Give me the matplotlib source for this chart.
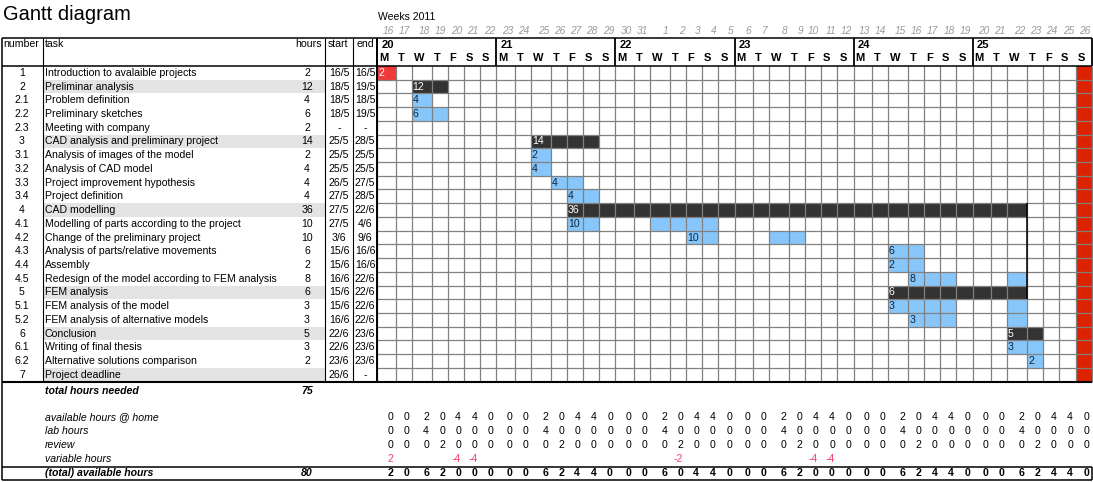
import matplotlib.pyplot as plt
from matplotlib.patches import Rectangle

plt.rcParams['font.family'] = ['Liberation Sans', 'DejaVu Sans']

# task table
numbers = ["1", "2", "2.1", "2.2", "2.3", "3", "3.1", "3.2", "3.3", "3.4",
           "4", "4.1", "4.2", "4.3", "4.4", "4.5", "5", "5.1", "5.2",
           "6", "6.1", "6.2", "7"]
tasks = ["Introduction to avalaible projects", "Preliminar analysis",
         "Problem definition", "Preliminary sketches", "Meeting with company",
         "CAD analysis and preliminary project", "Analysis of images of the model",
         "Analysis of CAD model", "Project improvement hypothesis",
         "Project definition", "CAD modelling",
         "Modelling of parts according to the project",
         "Change of the preliminary project",
         "Analysis of parts/relative movements", "Assembly",
         "Redesign of the model according to FEM analysis", "FEM analysis",
         "FEM analysis of the model", "FEM analysis of alternative models",
         "Conclusion", "Writing of final thesis",
         "Alternative solutions comparison", "Project deadline"]
hours = ["2", "12", "4", "6", "2", "14", "2", "4", "4", "4", "36", "10", "10",
         "6", "2", "8", "6", "3", "3", "5", "3", "2", ""]
starts = ["16/5", "18/5", "18/5", "18/5", "-", "25/5", "25/5", "25/5", "26/5",
          "27/5", "27/5", "27/5", "3/6", "15/6", "15/6", "16/6", "15/6", "15/6",
          "16/6", "22/6", "22/6", "23/6", "26/6"]
ends = ["16/5", "19/5", "18/5", "19/5", "-", "28/5", "25/5", "25/5", "27/5",
        "28/5", "22/6", "4/6", "9/6", "16/6", "16/6", "22/6", "22/6", "22/6",
        "22/6", "23/6", "23/6", "23/6", "-"]
main_rows = ["2", "3", "4", "5", "6", "7"]

# calendar
weeks = ["20", "21", "22", "23", "24", "25"]
weekdays = ["M", "T", "W", "T", "F", "S", "S"]
may_days = ["16", "17", "18", "19", "20", "21", "22", "23", "24", "25", "26",
            "27", "28", "29", "30", "31"]
june_days = ["1", "2", "3", "4", "5", "6", "7", "8", "9", "10", "11", "12",
             "13", "14", "15", "16", "17", "18", "19", "20", "21", "22", "23",
             "24", "25", "26"]
day_keys = [d + "/5" for d in may_days] + [d + "/6" for d in june_days]
deadline = "26/6"

# bars: (task number, first day, last day, kind)
bars = [
    ("1", "16/5", "16/5", "red"),
    ("2", "18/5", "19/5", "dark"),
    ("2.1", "18/5", "18/5", "blue"),
    ("2.2", "18/5", "19/5", "blue"),
    ("3", "25/5", "28/5", "dark"),
    ("3.1", "25/5", "25/5", "blue"),
    ("3.2", "25/5", "25/5", "blue"),
    ("3.3", "26/5", "27/5", "blue"),
    ("3.4", "27/5", "28/5", "blue"),
    ("4", "27/5", "22/6", "dark"),
    ("4.1", "27/5", "28/5", "blue"),
    ("4.1", "1/6", "4/6", "blue"),
    ("4.2", "3/6", "4/6", "blue"),
    ("4.2", "8/6", "9/6", "blue"),
    ("4.3", "15/6", "16/6", "blue"),
    ("4.4", "15/6", "16/6", "blue"),
    ("4.5", "16/6", "18/6", "blue"),
    ("4.5", "22/6", "22/6", "blue"),
    ("5", "15/6", "22/6", "dark"),
    ("5.1", "15/6", "18/6", "blue"),
    ("5.1", "22/6", "22/6", "blue"),
    ("5.2", "16/6", "18/6", "blue"),
    ("5.2", "22/6", "22/6", "blue"),
    ("6", "22/6", "23/6", "dark"),
    ("6.1", "22/6", "23/6", "blue"),
    ("6.2", "23/6", "23/6", "blue"),
]

# available hours per day
home_hours = [0, 0, 2, 0, 4, 4, 0, 0, 0, 2, 0, 4, 4, 0, 0, 0, 2, 0, 4, 4, 0,
              0, 0, 2, 0, 4, 4, 0, 0, 0, 2, 0, 4, 4, 0, 0, 0, 2, 0, 4, 4, 0]
lab_hours = [0, 0, 4, 0, 0, 0, 0, 0, 0, 4, 0, 0, 0, 0, 0, 0, 4, 0, 0, 0, 0,
             0, 0, 4, 0, 0, 0, 0, 0, 0, 4, 0, 0, 0, 0, 0, 0, 4, 0, 0, 0, 0]
review_hours = [0, 0, 0, 2, 0, 0, 0, 0, 0, 0, 2, 0, 0, 0, 0, 0, 0, 2, 0, 0, 0,
                0, 0, 0, 2, 0, 0, 0, 0, 0, 0, 2, 0, 0, 0, 0, 0, 0, 2, 0, 0, 0]
variable_hours = [2, None, None, None, -4, -4, None, None, None, None, None,
                  None, None, None, None, None, None, -2, None, None, None,
                  None, None, None, None, -4, -4, None, None, None, None, None,
                  None, None, None, None, None, None, None, None, None, None]
total_needed = 75

DARK = "#333333"
BLUE = "#86c6fb"
RED = "#f03a3a"
DEADLINE_RED = "#dd2200"
GRID = "#808080"
FS = 7.6

fig = plt.figure(figsize=(10.93, 4.82), dpi=100)
ax = fig.add_axes([0, 0, 1, 1])
ax.set_xlim(0, 1093)
ax.set_ylim(482, 0)
ax.axis("off")

# geometry (pixel-like coordinates)
X_LEFT, X_TASK, X_START, X_END, X_GRID = 1.5, 43.3, 325, 352.7, 377.3
WEEK_W = 119.07
DAY_W = [18.3, 15.9, 20.1, 16.0, 16.0, 16.6, 16.17]
TOP, HEAD_B, ROW_H = 38, 66, 13.72

day_edges = []
for w in range(len(weeks)):
    x = X_GRID + w * WEEK_W
    for d in range(7):
        day_edges.append(x)
        x += DAY_W[d]
day_edges.append(X_GRID + len(weeks) * WEEK_W)
X_RIGHT = day_edges[-1]
n_rows = len(numbers)
row_top = [HEAD_B + i * ROW_H for i in range(n_rows + 1)]
Y_BOT = row_top[-1]


def cx(i):
    return (day_edges[i] + day_edges[i + 1]) / 2


def ry(r):
    return row_top[r] + ROW_H / 2


# title and calendar header
ax.text(3, 14, "Gantt diagram", fontsize=14.5, va="center", ha="left")
ax.text(378, 17, "Weeks 2011", fontsize=7.5, va="center", ha="left")
for i, key in enumerate(day_keys):
    ax.text(day_edges[i + 1] - 1.5, 30.5, key.split("/")[0], fontsize=7.3,
            style="italic", color="#9a9a9a", ha="right", va="center")
    ax.text(day_edges[i] + 2, 58, weekdays[i % 7], fontsize=8,
            fontweight="bold", ha="left", va="center")
for w, wk in enumerate(weeks):
    ax.text(day_edges[w * 7] + 4, 45, wk, fontsize=8, fontweight="bold",
            ha="left", va="center")

# table header
ax.text(3, 44, "number", fontsize=FS, va="center")
ax.text(X_TASK + 1.5, 44, "task", fontsize=FS, va="center")
ax.text(X_START - 3, 44, "hours", fontsize=FS, va="center", ha="right")
ax.text(X_START + 3, 44, "start", fontsize=FS, va="center")
ax.text(X_END + 4, 44, "end", fontsize=FS, va="center")

# task rows
for r in range(n_rows):
    if numbers[r] in main_rows:
        ax.add_patch(Rectangle((X_TASK, row_top[r]), X_START - X_TASK, ROW_H,
                               color="#e3e3e3", lw=0, zorder=0))
    y = ry(r)
    ax.text(22, y, numbers[r], fontsize=FS, ha="center", va="center")
    ax.text(X_TASK + 1.5, y, tasks[r], fontsize=FS, ha="left", va="center")
    ax.text(307, y, hours[r], fontsize=FS, ha="center", va="center")
    ax.text(339, y, starts[r], fontsize=FS, ha="center", va="center")
    ax.text(365, y, ends[r], fontsize=FS, ha="center", va="center")

# deadline column
dl = day_keys.index(deadline)
ax.add_patch(Rectangle((day_edges[dl], HEAD_B), day_edges[dl + 1] - day_edges[dl],
                       Y_BOT - HEAD_B, color=DEADLINE_RED, lw=0, zorder=1))

# bars
colors = {"dark": DARK, "blue": BLUE, "red": RED}
labelled = set()
for num, s, e, kind in bars:
    r = numbers.index(num)
    i0, i1 = day_keys.index(s), day_keys.index(e)
    ax.add_patch(Rectangle((day_edges[i0], row_top[r]),
                           day_edges[i1 + 1] - day_edges[i0], ROW_H,
                           color=colors[kind], lw=0, zorder=1))
    if num not in labelled:
        labelled.add(num)
        ax.text(day_edges[i0] + 1.2, ry(r), hours[r], fontsize=FS,
                color="white" if kind != "blue" else "#10243a",
                ha="left", va="center", zorder=4)

# grid lines
ax.vlines(day_edges, HEAD_B, Y_BOT, color=GRID, lw=0.9, zorder=2)
ax.hlines(row_top[1:-1], X_GRID, X_RIGHT, color=GRID, lw=0.9, zorder=2)
ax.vlines([day_edges[w * 7] for w in range(len(weeks))] + [X_RIGHT],
          TOP, HEAD_B, color="black", lw=1.3, zorder=3)
ax.hlines([TOP, HEAD_B], X_LEFT, X_RIGHT, color="black", lw=1.1, zorder=3)
ax.vlines([X_TASK, X_START, X_END], TOP, Y_BOT, color="black", lw=0.8, zorder=3)
ax.vlines(X_GRID, TOP, Y_BOT, color="black", lw=1.4, zorder=3)
ax.vlines(X_LEFT, TOP, 479.5, color="black", lw=1.1, zorder=3)
ax.hlines(Y_BOT, X_LEFT, X_RIGHT, color="black", lw=1.5, zorder=3)
r4, r5 = numbers.index("4"), numbers.index("5")
xb = day_edges[day_keys.index("22/6") + 1]
ax.vlines(xb, row_top[r4], row_top[r5 + 1], color="black", lw=1.1, zorder=3)

# summary
ax.text(X_TASK + 1.5, 390.7, "total hours needed", fontsize=FS,
        style="italic", fontweight="bold", va="center")
ax.text(306.7, 390.7, str(total_needed), fontsize=FS, style="italic",
        fontweight="bold", va="center", ha="center")

summary = [("available hours @ home", home_hours, 416.7),
           ("lab hours", lab_hours, 431.3),
           ("review", review_hours, 445.5),
           ("variable hours", variable_hours, 459.2)]
for label, vals, y in summary:
    ax.text(X_TASK + 1.5, y, label, fontsize=FS, style="italic", va="center")
    for i, v in enumerate(vals):
        if v is None:
            continue
        ax.text(day_edges[i + 1] - 2.5, y, str(v), fontsize=FS, ha="right",
                va="center", color="#f0406a" if vals is variable_hours else "black")

total_avail = []
for i in range(len(day_keys)):
    t = home_hours[i] + lab_hours[i] + review_hours[i]
    if variable_hours[i] is not None:
        t += variable_hours[i]
    total_avail.append(t)
ax.text(X_TASK + 1.5, 472.5, "(total) available hours", fontsize=FS,
        style="italic", fontweight="bold", va="center")
ax.text(306.7, 472.5, str(sum(total_avail)), fontsize=FS, style="italic",
        fontweight="bold", va="center", ha="center")
for i, v in enumerate(total_avail):
    ax.text(day_edges[i + 1] - 2.5, 472.5, str(v), fontsize=FS,
            fontweight="bold", ha="right", va="center")
ax.hlines([466.8, 479.5], X_LEFT, X_RIGHT, color="black", lw=1.1)
ax.vlines(X_RIGHT, 466.8, 479.5, color="black", lw=1.1)

fig.savefig("out.png", dpi=100, facecolor="white")
